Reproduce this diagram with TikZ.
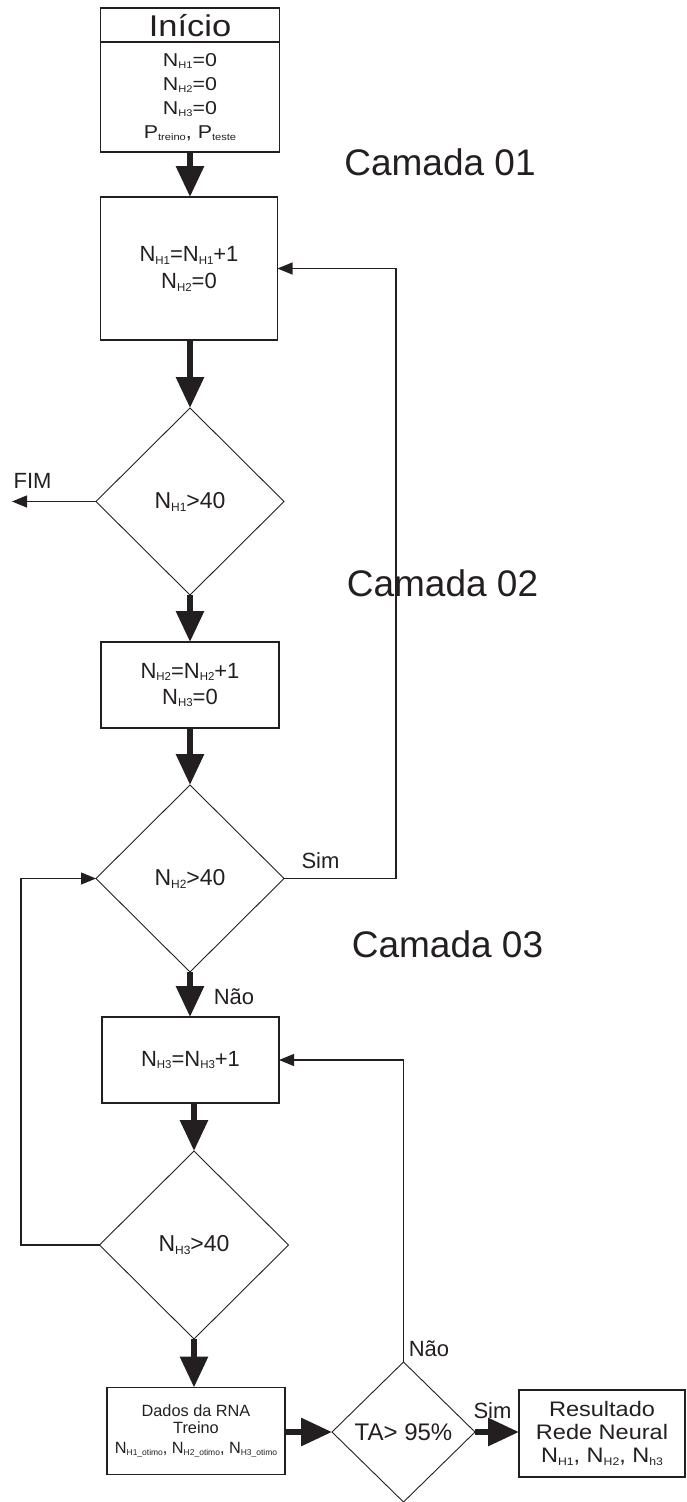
\documentclass[tikz,border=0pt]{standalone}
\usepackage{fontspec}
\setmainfont{Liberation Sans}
\newfontfamily\widefont[FakeStretch=1.15]{Liberation Sans}
\newfontfamily\midfont[FakeStretch=1.12]{Liberation Sans}
\usepackage{graphicx}
\usetikzlibrary{arrows.meta,shapes.geometric}
\definecolor{ink}{HTML}{231F20}
\newcommand{\sbs}[1]{\raisebox{-0.13em}{\scalebox{0.52}{#1}}}
\newcommand{\fs}[2]{\fontsize{#1}{#2}\selectfont}
\begin{document}
\begin{tikzpicture}[x=1pt,y=-1pt,
  every node/.style={text=ink},
  box/.style={draw=ink, line width=1.2pt, inner sep=0pt, outer sep=0pt, align=center},
  dia/.style={draw=ink, line width=0.9pt, shape=diamond, inner sep=0pt, outer sep=0pt, align=center},
  bigarrow/.style={draw=ink, line width=6pt, -{Triangle[length=31pt,width=27pt]}},
  smallarrow/.style={draw=ink, line width=1.2pt, -{Triangle[length=15pt,width=12pt]}},
  lbl/.style={anchor=base, inner sep=0pt, font=\fs{22}{26}},
  layer/.style={anchor=base, inner sep=0pt, font=\fs{37}{40}}]
\useasboundingbox (0,0) rectangle (687,1502);

% start block
\node[box, minimum width=179pt, minimum height=34pt, text height=28.7pt, text depth=5.3pt,
      font=\widefont\fs{30}{34}] (inicio) at (190,25) {Início};
\node[box, minimum width=179pt, minimum height=110pt, font=\widefont\fs{18.6}{24}] (ini) at (190,97)
  {N\sbs{H1}=0\\N\sbs{H2}=0\\N\sbs{H3}=0\\P\sbs{treino}, P\sbs{teste}};

% layer 1
\node[box, minimum width=177pt, minimum height=143pt, font=\fs{22}{27}] (b1) at (189,268.5)
  {N\sbs{H1}=N\sbs{H1}+1\\N\sbs{H2}=0};
\node[dia, minimum width=188pt, minimum height=187pt, font=\fs{23}{26}] (d1) at (190,501.5)
  {N\sbs{H1}>40};

% layer 2
\node[box, minimum width=178pt, minimum height=86pt, font=\fs{22}{26}] (b2) at (190,685)
  {N\sbs{H2}=N\sbs{H2}+1\\N\sbs{H3}=0};
\node[dia, minimum width=188pt, minimum height=187pt, font=\fs{23}{26}] (d2) at (190,878.5)
  {N\sbs{H2}>40};

% layer 3
\node[box, minimum width=177pt, minimum height=86pt, font=\fs{22}{26}] (b3) at (190.5,1060)
  {N\sbs{H3}=N\sbs{H3}+1};
\node[dia, minimum width=189pt, minimum height=188pt, font=\fs{23}{26}] (d3) at (194,1245)
  {N\sbs{H3}>40};

% bottom row
\node[box, minimum width=178pt, minimum height=87pt, font=\fs{16.3}{17.5}] (dados) at (196,1431)
  {Dados da RNA\\Treino\\[2.5pt]N\sbs{H1\_otimo}, N\sbs{H2\_otimo}, N\sbs{H3\_otimo}};
\node[dia, minimum width=143pt, minimum height=140pt, font=\fs{24}{26}] (ta) at (403.5,1432)
  {TA> 95\%};
\node[box, minimum width=166pt, minimum height=87pt, font=\midfont\fs{21}{23}] (res) at (602,1433.5)
  {Resultado\\Rede Neural\\N\sbs{H1}, N\sbs{H2}, N\sbs{h3}};

% layer titles
\node[layer] (cam1) at (440,175) {Camada 01};
\node[layer] (cam2) at (442.5,596) {Camada 02};
\node[layer] (cam3) at (447.5,957) {Camada 03};

% free ends / bends
\coordinate (fim) at (12,501.5);
\coordinate (r1) at (396,600);
\coordinate (l1) at (21,1000);

% main flow
\draw[bigarrow] (ini.south) -- (b1.north -| ini.south);
\draw[bigarrow] (b1.south -| d1.north) -- (d1.north);
\draw[bigarrow] (d1.south) -- (b2.north);
\draw[bigarrow] (b2.south) -- (d2.north);
\draw[bigarrow] (d2.south) -- (b3.north -| d2.south);
\draw[bigarrow] (b3.south -| d3.north) -- (d3.north);
\draw[bigarrow] (d3.south) -- (d3.south |- dados.north);
\draw[bigarrow] (dados.east |- ta.west) -- (ta.west);
\draw[bigarrow] (ta.east) -- (ta.east -| res.west);

% loops
\draw[smallarrow] (d1.west) -- (fim);
\draw[smallarrow] (d2.east) -| (r1) |- (b1.east);
\draw[smallarrow] (d3.west) -| (l1) |- (d2.west);
\draw[smallarrow] (ta.north) |- (b3.east);

% labels
\node[lbl] (lfim) at (32.5,488) {FIM};
\node[lbl] (lsim1) at (320.5,868) {Sim};
\node[lbl] (lnao1) at (234,1004) {Não};
\node[lbl] (lnao2) at (429,1356) {Não};
\node[lbl] (lsim2) at (492.5,1418) {Sim};
\end{tikzpicture}
\end{document}
